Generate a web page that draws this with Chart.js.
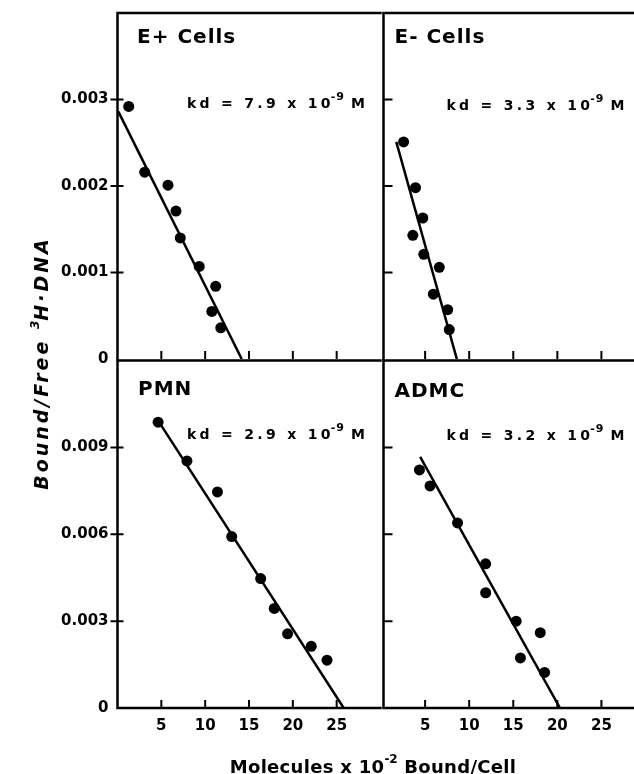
<!DOCTYPE html>
<html>
<head>
<meta charset="utf-8">
<script src="https://cdn.jsdelivr.net/npm/chart.js@4.4.1/dist/chart.umd.min.js"></script>
<style>
  body { margin: 0; background: #fff; }
  #wrap { position: relative; width: 634px; height: 774px; overflow: hidden; background: #fff; }
  canvas { position: absolute; }
  .ytitle {
    position: absolute; left: -123px; top: 352px; width: 320px; height: 22px;
    text-align: center; transform: rotate(-90deg);
    font: italic bold 19px "DejaVu Sans"; letter-spacing: 3px; line-height: 22px; color: #000;
    white-space: nowrap;
  }
  .ytitle sup { font-size: 12px; position: relative; top: -2px; letter-spacing: 0; }
  .xtitle {
    position: absolute; left: 123px; top: 751px; width: 500px; height: 22px;
    text-align: center; font: bold 18px "DejaVu Sans"; letter-spacing: 0.3px; line-height: 22px;
    color: #000; white-space: nowrap;
  }
  .xtitle sup { font-size: 12px; position: relative; top: -3px; letter-spacing: 0; }
</style>
</head>
<body>
<div id="wrap">
  <canvas id="tl" width="386" height="374" style="left:0;top:0"></canvas>
  <canvas id="tr" width="273" height="374" style="left:378px;top:0"></canvas>
  <canvas id="bl" width="386" height="419" style="left:0;top:355px"></canvas>
  <canvas id="br" width="273" height="419" style="left:378px;top:355px"></canvas>
  <div class="ytitle">Bound/Free <sup>3</sup>H·DNA</div>
  <div class="xtitle">Molecules x 10<sup>-2</sup> Bound/Cell</div>
</div>
<script>
// tick values
const xTicks = [5, 10, 15, 20, 25];
const topYTicks = [0.001, 0.002, 0.003];
const bottomYTicks = [0.003, 0.006, 0.009];

// E+ cells
const ePlusX = [1.28, 3.1, 5.76, 6.67, 7.16, 9.32, 11.2, 10.76, 11.78];
const ePlusY = [0.00292, 0.00216, 0.00201, 0.00171, 0.0014, 0.00107, 0.00084, 0.00055, 0.00036];
const ePlusLineX = [0.1, 14.17];
const ePlusLineY = [0.00286, 0];

// E- cells
const eMinusX = [2.56, 3.91, 4.74, 3.61, 4.85, 6.61, 5.93, 7.56, 7.74];
const eMinusY = [0.00251, 0.00198, 0.00163, 0.00143, 0.00121, 0.00106, 0.00075, 0.00057, 0.00034];
const eMinusLineX = [1.73, 8.6];
const eMinusLineY = [0.00251, 0];

// PMN
const pmnX = [4.63, 7.92, 11.4, 13.03, 16.33, 17.88, 19.4, 22.1, 23.9];
const pmnY = [0.00987, 0.00853, 0.00746, 0.00592, 0.00447, 0.00344, 0.00256, 0.00213, 0.00165];
const pmnLineX = [4.69, 25.8];
const pmnLineY = [0.0099, 0];

// ADMC
const admcX = [4.36, 5.56, 8.68, 11.87, 11.87, 15.33, 18.06, 15.81, 18.55];
const admcY = [0.00822, 0.00767, 0.00639, 0.00498, 0.00398, 0.003, 0.0026, 0.00173, 0.00123];
const admcLineX = [4.44, 20.3];
const admcLineY = [0.00867, 0];

const FONT = "'DejaVu Sans'";
Chart.defaults.font.family = "DejaVu Sans";
Chart.defaults.color = "#000";

function pts(xs, ys) {
    return xs.map((x, i) => ({ x: x, y: ys[i] }));
}

function drawPanelText(ctx, area, p) {
    ctx.save();
    ctx.fillStyle = "#000";
    ctx.textBaseline = "alphabetic";
    ctx.textAlign = "left";
    ctx.font = "bold 20px " + FONT;
    ctx.letterSpacing = "1px";
    ctx.fillText(p.title, area.left + p.titleDx, area.top + p.titleDy);

    let x = area.left + p.kdDx;
    const y = area.top + p.kdDy;
    ctx.font = "bold 14px " + FONT;
    ctx.letterSpacing = "3.3px";
    ctx.fillText(p.kd, x, y);
    x += ctx.measureText(p.kd).width;
    ctx.font = "bold 11px " + FONT;
    ctx.letterSpacing = "1px";
    ctx.fillText("-9", x - 3, y - 8);
    x += ctx.measureText("-9").width + 3;
    ctx.font = "bold 14px " + FONT;
    ctx.letterSpacing = "0px";
    ctx.fillText("M", x, y);
    ctx.restore();
}

function makePanel(id, p) {
    const frame = {
        id: "frame_" + id,
        afterDraw(chart) {
            const ctx = chart.ctx;
            const a = chart.chartArea;
            const sx = chart.scales.x, sy = chart.scales.y;
            ctx.save();
            ctx.strokeStyle = "#000";
            ctx.lineWidth = 2.5;
            ctx.lineCap = "square";
            ctx.beginPath();
            // shared edges are drawn once only
            ctx.moveTo(a.left, a.top); ctx.lineTo(a.right, a.top);
            ctx.moveTo(a.left, a.top); ctx.lineTo(a.left, a.bottom);
            if (p.edgeRight) { ctx.moveTo(a.right, a.top); ctx.lineTo(a.right, a.bottom); }
            if (p.edgeBottom) { ctx.moveTo(a.left, a.bottom); ctx.lineTo(a.right, a.bottom); }
            ctx.stroke();
            ctx.lineWidth = 2;
            ctx.lineCap = "butt";
            ctx.beginPath();
            xTicks.forEach(v => {
                const px = sx.getPixelForValue(v);
                ctx.moveTo(px, a.bottom);
                ctx.lineTo(px, a.bottom - 8);
            });
            p.yTicks.forEach(v => {
                const py = sy.getPixelForValue(v);
                ctx.moveTo(a.left - (p.yLabels ? 7 : 0), py);
                ctx.lineTo(a.left + (p.yLabels ? 6 : 9), py);
            });
            ctx.stroke();
            ctx.restore();
            drawPanelText(ctx, a, p);
        }
    };

    return new Chart(document.getElementById(id), {
        type: "scatter",
        data: {
            datasets: [
                {
                    data: pts(p.xs, p.ys),
                    backgroundColor: "#000",
                    borderWidth: 0,
                    pointRadius: 5.5
                },
                {
                    data: pts(p.lineX, p.lineY),
                    showLine: true,
                    borderColor: "#000",
                    borderWidth: 2.5,
                    pointRadius: 0
                }
            ]
        },
        options: {
            responsive: false,
            animation: false,
            events: [],
            layout: { padding: p.padding },
            plugins: { legend: { display: false }, tooltip: { enabled: false } },
            scales: {
                x: {
                    type: "linear",
                    min: p.xMin,
                    max: 30,
                    grid: { display: false, drawTicks: false },
                    border: { display: false },
                    afterFit: s => { s.height = p.xHeight; s.paddingLeft = 0; s.paddingRight = 0; },
                    afterBuildTicks: s => { s.ticks = [p.xMin].concat(xTicks, [30]).map(v => ({ value: v })); },
                    ticks: {
                        display: p.xLabels,
                        padding: 9,
                        autoSkip: false,
                        maxRotation: 0,
                        color: "#000",
                        font: { size: 15, weight: "bold" },
                        callback: v => xTicks.includes(v) ? String(v) : ""
                    }
                },
                y: {
                    type: "linear",
                    min: 0,
                    max: p.yMax,
                    grid: { display: false, drawTicks: false },
                    border: { display: false },
                    afterFit: s => { s.width = p.yWidth; s.paddingTop = 0; s.paddingBottom = 0; },
                    ticks: {
                        display: p.yLabels,
                        stepSize: p.yStep,
                        padding: 9,
                        autoSkip: false,
                        color: "#000",
                        font: { size: 15, weight: "bold" },
                        callback: v => {
                            if (Math.abs(v) < 1e-9) return "0";
                            const hit = p.yTicks.find(t => Math.abs(t - v) < 1e-7);
                            return hit ? hit.toFixed(3) : "";
                        }
                    }
                }
            }
        },
        plugins: [frame]
    });
}

makePanel("tl", {
    xs: ePlusX, ys: ePlusY, lineX: ePlusLineX, lineY: ePlusLineY,
    xMin: 0, yMax: 0.004, yStep: 0.001, yTicks: topYTicks,
    xLabels: false, yLabels: true, xHeight: 0, yWidth: 117.5,
    edgeRight: false, edgeBottom: false,
    padding: { left: 0, top: 13, right: 4, bottom: 15 },
    title: "E+ Cells", titleDx: 19.5, titleDy: 30,
    kd: "kd = 7.9 x 10", kdDx: 69.5, kdDy: 95
});

makePanel("tr", {
    xs: eMinusX, ys: eMinusY, lineX: eMinusLineX, lineY: eMinusLineY,
    xMin: 0.28, yMax: 0.004, yStep: 0.001, yTicks: topYTicks,
    xLabels: false, yLabels: false, xHeight: 0, yWidth: 0,
    edgeRight: true, edgeBottom: false,
    padding: { left: 4, top: 13, right: 4, bottom: 15 },
    title: "E- Cells", titleDx: 11, titleDy: 30,
    kd: "kd = 3.3 x 10", kdDx: 63, kdDy: 97
});

makePanel("bl", {
    xs: pmnX, ys: pmnY, lineX: pmnLineX, lineY: pmnLineY,
    xMin: 0, yMax: 0.012, yStep: 0.003, yTicks: bottomYTicks,
    xLabels: true, yLabels: true, xHeight: 66, yWidth: 117.5,
    edgeRight: false, edgeBottom: true,
    padding: { left: 0, top: 4, right: 4, bottom: 0 },
    title: "PMN", titleDx: 20.5, titleDy: 34,
    kd: "kd = 2.9 x 10", kdDx: 69.5, kdDy: 78
});

makePanel("br", {
    xs: admcX, ys: admcY, lineX: admcLineX, lineY: admcLineY,
    xMin: 0.28, yMax: 0.012, yStep: 0.003, yTicks: bottomYTicks,
    xLabels: true, yLabels: false, xHeight: 66, yWidth: 0,
    edgeRight: true, edgeBottom: true,
    padding: { left: 4, top: 4, right: 4, bottom: 0 },
    title: "ADMC", titleDx: 11, titleDy: 36,
    kd: "kd = 3.2 x 10", kdDx: 63, kdDy: 79
});
</script>
</body>
</html>
